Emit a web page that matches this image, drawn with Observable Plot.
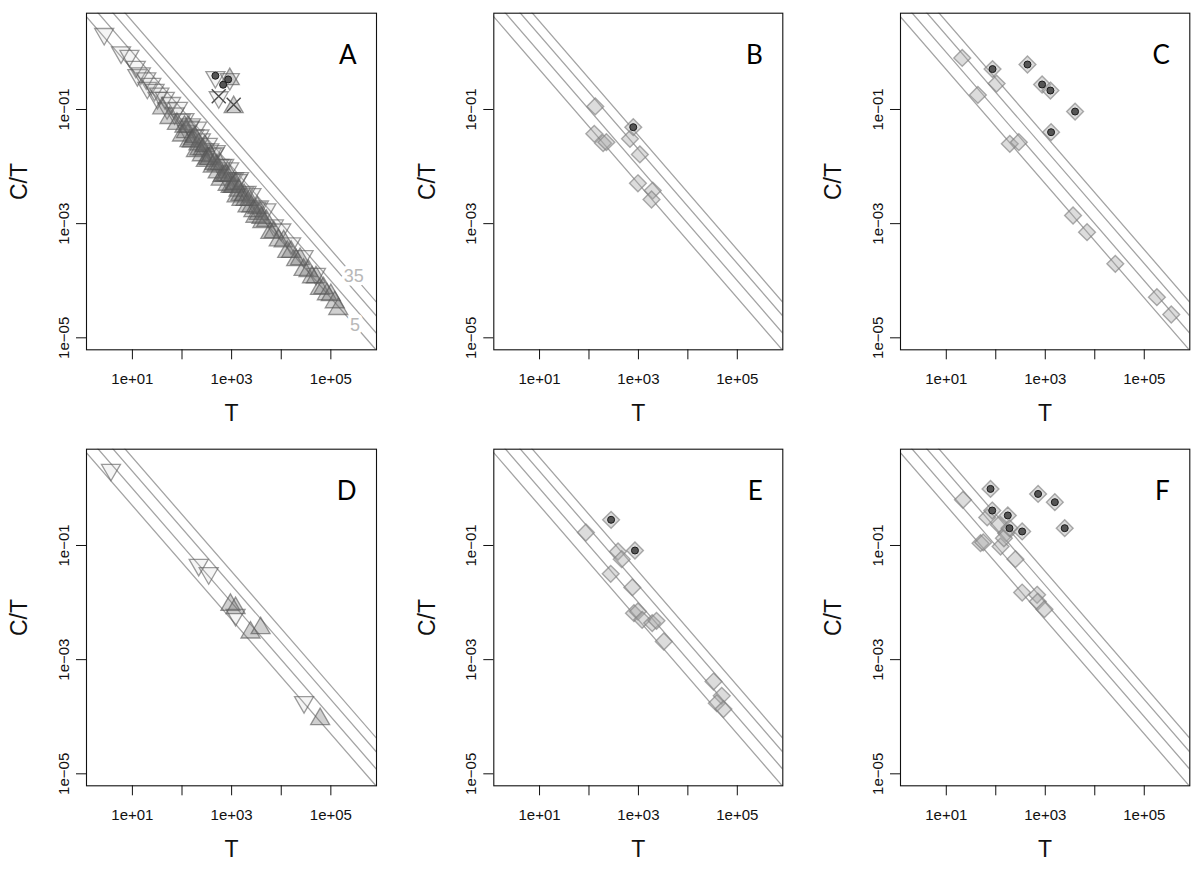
<!DOCTYPE html>
<html>
<head>
<meta charset="utf-8">
<script src="https://cdn.jsdelivr.net/npm/d3@7"></script>
<script src="https://cdn.jsdelivr.net/npm/@observablehq/plot@0.6"></script>
<style>
html, body { margin: 0; padding: 0; background: #fff; }
#wrap { position: relative; width: 1200px; height: 873px; overflow: hidden; background: #fff; }
.panel { position: absolute; }
</style>
</head>
<body>
<div id="wrap"></div>
<script>
// ---------- axis ticks ----------
const xTicks = [10, 100, 1000, 10000, 100000];
const xTickLabels = ["1e+01", "", "1e+03", "", "1e+05"];
const yTicks = [1e-1, 1e-3, 1e-5];
const yTickLabels = ["1e\u221201", "1e\u221203", "1e\u221205"];

// ---------- reference lines C = const (C/T vs T) ----------
const guideC = [5, 10, 20, 35];
const guideLabelText = ["35", "5"];
const guideLabelT = [2.9e5, 3.06e5];
const guideLabelC = [35, 5];

// ---------- panel letters ----------
const panelLetters = ["A", "B", "C", "D", "E", "F"];

// ---------- data: [T, C/T] ----------
// Panel A
const A_downTri = [[2.7,2.1],[5.9,1.0],[8.7,0.87],[11.7,0.56],[12.6,0.40],[14.8,0.43],[19,0.35],[20,0.24],[24,0.28],[28,0.22],[32,0.16],[35,0.19],[45,0.16],[50,0.105],[60,0.13],[71,0.085],[83,0.107],[95,0.066],[112,0.068],[126,0.042],[151,0.055],[178,0.035],[200,0.048],[240,0.030],[282,0.020],[331,0.025],[398,0.0166],[479,0.0186],[562,0.0107],[708,0.0107],[891,0.0093],[1120,0.0063],[1410,0.0063],[1780,0.0035],[2510,0.0033],[3550,0.0020],[5010,0.00178],[7080,0.00093],[10000,0.00079],[15800,0.00045],[28200,0.00027],[50100,0.000132],[141,0.050],[224,0.035],[355,0.020],[447,0.017],[631,0.0105],[794,0.0063],[1000,0.0060],[1320,0.0058],[2000,0.0036],[3160,0.0019],[471,0.37],[918,0.34],[550,0.164]];
const A_upTri = [[40,0.105],[56,0.071],[79,0.056],[100,0.035],[120,0.040],[141,0.028],[166,0.030],[191,0.0186],[224,0.020],[263,0.020],[302,0.0126],[355,0.0135],[417,0.0100],[501,0.0105],[603,0.0059],[661,0.0069],[794,0.0071],[955,0.0044],[1120,0.0045],[1260,0.0030],[1510,0.0032],[1780,0.0032],[2090,0.0020],[2510,0.0020],[3020,0.00132],[3550,0.00148],[4170,0.00107],[5010,0.00112],[6030,0.00069],[7080,0.00071],[8910,0.00051],[11200,0.00049],[13200,0.00032],[15800,0.00032],[20000,0.00023],[24000,0.00024],[28200,0.000155],[35500,0.000148],[41700,0.000115],[50100,0.000115],[60300,0.000072],[70800,0.000074],[83200,0.000058],[100000,0.000056],[120000,0.000042],[141000,0.000032],[112,0.050],[132,0.050],[158,0.0275],[182,0.033],[214,0.0245],[251,0.0158],[288,0.023],[331,0.0138],[380,0.0151],[447,0.0112],[525,0.0079],[575,0.011],[724,0.0069],[832,0.0048],[912,0.0069],[1050,0.0044],[1200,0.0050],[1380,0.0038],[1580,0.0026],[1910,0.0026],[2290,0.0026],[2750,0.00166],[3310,0.0019],[3980,0.00126],[918,0.34],[1100,0.11]];
const A_cross = [[550,0.171],[1100,0.121]];
const A_circle = [[471,0.39],[851,0.336],[675,0.271]];

// Panel B
const B_plain = [[134,0.113],[128,0.0375],[193,0.0257],[225,0.0268],[675,0.0306],[1070,0.0163],[977,0.0051],[1950,0.0038],[1840,0.00265]];
const B_marked = [[787,0.049]];

// Panel C
const C_plain = [[21,0.80],[43.5,0.18],[104,0.285],[192,0.025],[292,0.0268],[3640,0.00139],[6980,0.00071],[26000,0.000198],[180000,0.0000515],[351000,0.0000256]];
const C_marked = [[86,0.51],[437,0.614],[863,0.274],[1270,0.215],[4000,0.092],[1310,0.040]];

// Panel D
const D_downTri = [[3.7,2.12],[217,0.0458],[345,0.0327],[1200,0.0061],[28800,0.00018]];
const D_upTri = [[946,0.00914],[1200,0.00798],[2400,0.00299],[3830,0.00356],[60800,0.0000908]];

// Panel E
const E_plain = [[86.7,0.169],[387,0.0785],[459,0.0577],[275,0.0319],[752,0.0184],[813,0.00653],[977,0.00698],[1190,0.00499],[1900,0.00437],[2320,0.00479],[3260,0.00208],[33000,0.000414],[48400,0.000232],[38500,0.000173],[52400,0.000136]];
const E_marked = [[280,0.282],[851,0.0817]];

// Panel F
const F_plain = [[21.7,0.63],[67.1,0.31],[115,0.23],[162,0.164],[49.2,0.11],[55.7,0.113],[125,0.096],[146,0.134],[250,0.0577],[341,0.015],[684,0.0137],[706,0.0104],[962,0.00767]];
const F_marked = [[78.3,0.98],[84.7,0.41],[175,0.336],[189,0.201],[341,0.176],[716,0.80],[1560,0.574],[2470,0.201]];

// ---------- symbols (R-like pch shapes) ----------
const symUp = {draw(ctx, size) { const h = Math.sqrt(size / Math.PI); ctx.moveTo(0, -h); ctx.lineTo(0.866 * h, h / 2); ctx.lineTo(-0.866 * h, h / 2); ctx.closePath(); }};
const symDown = {draw(ctx, size) { const h = Math.sqrt(size / Math.PI); ctx.moveTo(0, h); ctx.lineTo(-0.866 * h, -h / 2); ctx.lineTo(0.866 * h, -h / 2); ctx.closePath(); }};
const symDiamond = {draw(ctx, size) { const h = Math.sqrt(size / Math.PI); ctx.moveTo(0, -h); ctx.lineTo(h, 0); ctx.lineTo(0, h); ctx.lineTo(-h, 0); ctx.closePath(); }};
const symCross = {draw(ctx, size) { const h = Math.sqrt(size / Math.PI); ctx.moveTo(-h, -h); ctx.lineTo(h, h); ctx.moveTo(h, -h); ctx.lineTo(-h, h); }};

const toRows = arr => arr.map(([T, CT]) => ({T, CT}));

const downMark = arr => Plot.dot(toRows(arr), {x: "T", y: "CT", symbol: symDown, r: 11, fill: "#bdbdbd", fillOpacity: 0.15, stroke: "#5a5a5a", strokeOpacity: 0.6, strokeWidth: 1.3});
const upMark = arr => Plot.dot(toRows(arr), {x: "T", y: "CT", symbol: symUp, r: 11, fill: "#6e6e6e", fillOpacity: 0.32, stroke: "#555555", strokeOpacity: 0.6, strokeWidth: 1.3});
const diamondMark = arr => Plot.dot(toRows(arr), {x: "T", y: "CT", symbol: symDiamond, r: 8.4, fill: "#a8a8a8", fillOpacity: 0.4, stroke: "#808080", strokeOpacity: 0.65, strokeWidth: 1.4});
const circleMark = arr => Plot.dot(toRows(arr), {x: "T", y: "CT", r: 3.5, fill: "#555555", stroke: "#1a1a1a", strokeWidth: 1});
const crossMark = arr => Plot.dot(toRows(arr), {x: "T", y: "CT", symbol: symCross, r: 7, fill: "none", stroke: "#4a4a4a", strokeWidth: 1.4});

const panels = [
  {letter: panelLetters[0], col: 0, row: 0, marks: [downMark(A_downTri), upMark(A_upTri), crossMark(A_cross), circleMark(A_circle)], labels: true},
  {letter: panelLetters[1], col: 1, row: 0, marks: [diamondMark(B_plain), diamondMark(B_marked), circleMark(B_marked)]},
  {letter: panelLetters[2], col: 2, row: 0, marks: [diamondMark(C_plain), diamondMark(C_marked), circleMark(C_marked)]},
  {letter: panelLetters[3], col: 0, row: 1, marks: [downMark(D_downTri), upMark(D_upTri)]},
  {letter: panelLetters[4], col: 1, row: 1, marks: [diamondMark(E_plain), diamondMark(E_marked), circleMark(E_marked)]},
  {letter: panelLetters[5], col: 2, row: 1, marks: [diamondMark(F_plain), diamondMark(F_marked), circleMark(F_marked)]}
];

// layout
const colLeft = [0, 400, 800];
const colMarginLeft = [86, 93.3, 100];
const colMarginRight = [24, 17.7, 10.7];
const rowTop = [0, 436];
const rowHeight = [436, 437];
const rowMarginBottom = [86.7, 87.7];

const guideRows = guideC.flatMap(C => [{C, T: 0.1, CT: C / 0.1}, {C, T: 1e7, CT: C / 1e7}]);
const guideLabelRows = guideLabelText.map((t, i) => ({t, T: guideLabelT[i], CT: guideLabelC[i] / guideLabelT[i]}));
const xLabelMap = new Map(xTicks.map((d, i) => [d, xTickLabels[i]]));

const wrap = document.getElementById("wrap");
for (const p of panels) {
  const marks = [
    Plot.line(guideRows, {x: "T", y: "CT", z: "C", stroke: "#a4a4a4", strokeWidth: 1.3, clip: true})
  ];
  if (p.labels) {
    marks.push(Plot.text(guideLabelRows, {x: "T", y: "CT", text: "t", fill: "#b8b8b8", stroke: "white", strokeWidth: 7, fontSize: 18, fontFamily: "Liberation Sans, Arial, sans-serif"}));
  }
  marks.push(...p.marks);
  marks.push(
    Plot.frame({stroke: "#111", strokeWidth: 1.1}),
    Plot.axisX(xTicks, {label: null, tickSize: 10, tickPadding: 14, tickFormat: d => xLabelMap.get(d), fontSize: 15, stroke: "#111", fill: "#111"}),
    Plot.axisY(yTicks, {label: null, tickSize: 10, tickFormat: () => "", stroke: "#111"}),
    Plot.text(yTicks, {y: d => d, text: (d, i) => yTickLabels[i], frameAnchor: "left", rotate: -90, dx: -17.7, lineAnchor: "bottom", textAnchor: "middle", fontSize: 15, fill: "#111"}),
    Plot.text(["T"], {text: d => d, frameAnchor: "bottom", dy: 71.4, lineAnchor: "bottom", fontSize: 23, fill: "#111"}),
    Plot.text(["C/T"], {text: d => d, frameAnchor: "left", rotate: -90, dx: -59.3, lineAnchor: "bottom", textAnchor: "middle", fontSize: 23, fill: "#111"}),
    Plot.text([p.letter], {text: d => d, frameAnchor: "top-right", dx: -20, dy: 50.6, textAnchor: "end", lineAnchor: "bottom", fontSize: 26, fontFamily: "Lato, 'Open Sans', sans-serif", fill: "#000"})
  );
  const chart = Plot.plot({
    width: 400,
    height: rowHeight[p.row],
    marginLeft: colMarginLeft[p.col],
    marginRight: colMarginRight[p.col],
    marginTop: 12.7,
    marginBottom: rowMarginBottom[p.row],
    x: {type: "log", domain: [Math.pow(10, 0.075), Math.pow(10, 5.92)], axis: null},
    y: {type: "log", domain: [Math.pow(10, -5.21), Math.pow(10, 0.687)], axis: null},
    style: {fontFamily: "Liberation Sans, Arial, sans-serif", fontSize: "15px", background: "white", color: "#111", overflow: "visible"},
    marks
  });
  chart.classList.add("panel");
  chart.style.left = colLeft[p.col] + "px";
  chart.style.top = rowTop[p.row] + "px";
  wrap.appendChild(chart);
}
</script>
</body>
</html>
